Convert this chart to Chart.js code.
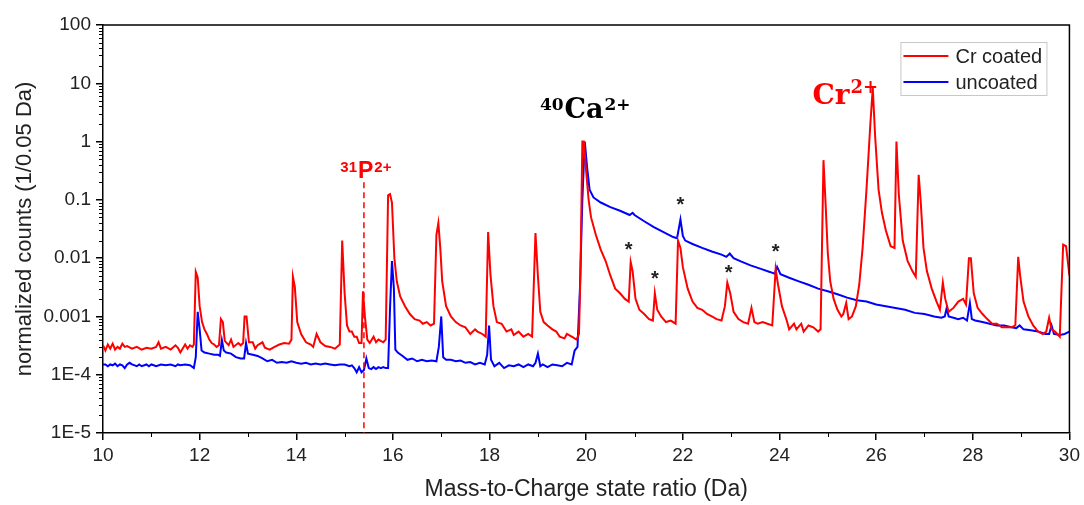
<!DOCTYPE html>
<html>
<head>
<meta charset="utf-8">
<title>Mass spectrum - Cr coated vs uncoated</title>
<script src="https://cdn.jsdelivr.net/npm/chart.js@4.4.1/dist/chart.umd.min.js"></script>
<style>
  html, body { margin: 0; padding: 0; background: #fff; }
  #wrap { width: 1084px; height: 505px; position: relative; }
</style>
</head>
<body>
<div id="wrap"><canvas id="spectrumChart"></canvas></div>
<script>
// ---- DATA ----
const massCr = [
  10.0, 10.05, 10.1, 10.15, 10.2, 10.25, 10.3, 10.35, 10.4, 10.45, 10.5, 10.6, 10.7, 10.8, 10.9, 11.0,
  11.1, 11.15, 11.2, 11.3, 11.4, 11.5, 11.55, 11.6, 11.7, 11.75, 11.8, 11.85, 11.88, 11.92, 11.96, 12.0,
  12.05, 12.1, 12.15, 12.2, 12.25, 12.3, 12.35, 12.4, 12.44, 12.48, 12.52, 12.6, 12.65, 12.7, 12.8, 12.85,
  12.9, 12.93, 12.97, 13.02, 13.1, 13.15, 13.2, 13.3, 13.35, 13.45, 13.55, 13.65, 13.75, 13.85, 13.9, 13.93,
  13.97, 14.02, 14.1, 14.2, 14.3, 14.35, 14.42, 14.5, 14.6, 14.7, 14.8, 14.9, 14.95, 15.0, 15.05, 15.1,
  15.15, 15.2, 15.25, 15.3, 15.35, 15.38, 15.42, 15.47, 15.52, 15.6, 15.65, 15.7, 15.8, 15.85, 15.9, 15.94,
  15.98, 16.03, 16.08, 16.15, 16.25, 16.35, 16.45, 16.55, 16.62, 16.7, 16.78, 16.85, 16.9, 16.94, 16.98, 17.02,
  17.1, 17.2, 17.3, 17.4, 17.5, 17.6, 17.7, 17.75, 17.85, 17.92, 17.97, 18.02, 18.08, 18.15, 18.25, 18.35,
  18.45, 18.5, 18.6, 18.7, 18.8, 18.88, 18.95, 19.0, 19.05, 19.12, 19.2, 19.3, 19.38, 19.45, 19.55, 19.6,
  19.7, 19.8, 19.85, 19.88, 19.92, 19.95, 20.0, 20.05, 20.1, 20.2, 20.3, 20.4, 20.5, 20.6, 20.7, 20.8,
  20.88, 20.92, 20.96, 21.02, 21.1, 21.2, 21.3, 21.38, 21.42, 21.47, 21.55, 21.65, 21.75, 21.85, 21.9, 21.95,
  22.0, 22.1, 22.2, 22.3, 22.4, 22.5, 22.6, 22.7, 22.8, 22.87, 22.92, 22.98, 23.05, 23.15, 23.25, 23.35,
  23.42, 23.48, 23.55, 23.65, 23.75, 23.85, 23.92, 23.97, 24.05, 24.15, 24.2, 24.3, 24.35, 24.45, 24.5, 24.6,
  24.7, 24.8, 24.85, 24.91, 24.95, 25.0, 25.05, 25.12, 25.2, 25.28, 25.32, 25.38, 25.43, 25.5, 25.58, 25.65,
  25.72, 25.8, 25.88, 25.93, 25.98, 26.05, 26.12, 26.2, 26.3, 26.38, 26.42, 26.47, 26.55, 26.65, 26.75, 26.82,
  26.88, 26.92, 26.98, 27.05, 27.15, 27.25, 27.32, 27.38, 27.43, 27.5, 27.6, 27.7, 27.8, 27.86, 27.92, 27.96,
  28.02, 28.1, 28.2, 28.3, 28.4, 28.5, 28.6, 28.7, 28.8, 28.88, 28.94, 28.98, 29.05, 29.15, 29.25, 29.35,
  29.45, 29.52, 29.58, 29.63, 29.7, 29.75, 29.8, 29.87, 29.93, 30.0
];
const countsCr = [
  3.2e-4, 2.6e-4, 3.3e-4, 2.8e-4, 3.4e-4, 2.7e-4, 3.0e-4, 2.8e-4, 3.4e-4, 3.0e-4, 3.1e-4, 2.8e-4, 3.0e-4, 2.7e-4, 2.9e-4, 2.8e-4,
  3.0e-4, 3.6e-4, 2.8e-4, 3.0e-4, 2.7e-4, 3.2e-4, 2.9e-4, 2.4e-4, 3.3e-4, 2.8e-4, 3.2e-4, 3.0e-4, 3.3e-4, 5.8e-3, 4.6e-3, 1.5e-3,
  8.0e-4, 6.0e-4, 5.0e-4, 4.0e-4, 3.5e-4, 3.3e-4, 3.0e-4, 3.2e-4, 9.0e-4, 8.0e-4, 3.8e-4, 3.2e-4, 4.0e-4, 3.0e-4, 3.5e-4, 3.2e-4,
  3.5e-4, 1.0e-3, 1.0e-3, 3.6e-4, 3.6e-4, 2.8e-4, 3.2e-4, 3.6e-4, 2.9e-4, 2.7e-4, 3.0e-4, 3.3e-4, 3.5e-4, 3.4e-4, 4.0e-4, 4.8e-3,
  3.2e-3, 8.0e-4, 5.0e-4, 3.6e-4, 3.3e-4, 3.0e-4, 5.0e-4, 3.6e-4, 3.1e-4, 3.0e-4, 2.8e-4, 3.3e-4, 2.0e-2, 2.5e-3, 7.0e-4, 5.5e-4,
  5.5e-4, 4.5e-4, 4.5e-4, 3.5e-4, 3.5e-4, 2.7e-3, 1.0e-3, 4.0e-4, 3.5e-4, 4.5e-4, 3.6e-4, 4.0e-4, 3.6e-4, 4.0e-4, 1.2e-1, 1.26e-1,
  9.0e-2, 1.0e-2, 4.0e-3, 2.2e-3, 1.5e-3, 1.1e-3, 9.0e-4, 8.5e-4, 7.5e-4, 8.0e-4, 7.0e-4, 7.5e-4, 2.5e-2, 4.0e-2, 1.5e-2, 4.0e-3,
  1.5e-3, 1.0e-3, 8.0e-4, 7.0e-4, 6.5e-4, 5.0e-4, 6.0e-4, 5.5e-4, 5.0e-4, 4.5e-4, 2.8e-2, 5.0e-3, 1.5e-3, 8.0e-4, 7.5e-4, 5.5e-4,
  6.0e-4, 4.8e-4, 5.5e-4, 4.5e-4, 5.0e-4, 4.5e-4, 2.7e-2, 5.0e-3, 1.2e-3, 8.0e-4, 7.0e-4, 6.0e-4, 5.5e-4, 4.5e-4, 4.2e-4, 5.0e-4,
  4.5e-4, 4.0e-4, 5.0e-4, 5.0e-3, 1.0, 1.0, 3.0e-1, 1.0e-1, 5.0e-2, 2.5e-2, 1.4e-2, 9.0e-3, 5.0e-3, 3.0e-3, 2.5e-3, 2.0e-3,
  1.8e-3, 8.6e-3, 6.0e-3, 2.0e-3, 1.3e-3, 1.1e-3, 9.0e-4, 8.5e-4, 2.5e-3, 1.3e-3, 1.0e-3, 8.0e-4, 8.5e-4, 7.5e-4, 2.0e-2, 1.5e-2,
  7.0e-3, 3.0e-3, 1.8e-3, 1.4e-3, 1.3e-3, 1.1e-3, 1.0e-3, 9.0e-4, 8.5e-4, 1.5e-3, 3.8e-3, 2.5e-3, 1.2e-3, 9.0e-4, 8.0e-4, 7.5e-4,
  1.4e-3, 8.0e-4, 7.5e-4, 8.0e-4, 7.5e-4, 7.0e-4, 6.5e-3, 3.5e-3, 1.5e-3, 8.5e-4, 6.0e-4, 7.5e-4, 6.0e-4, 7.5e-4, 5.5e-4, 7.0e-4,
  6.5e-4, 5.5e-4, 6.0e-4, 4.8e-1, 1.0e-1, 1.2e-2, 4.0e-3, 2.0e-3, 1.3e-3, 1.0e-3, 1.1e-3, 1.7e-3, 9.0e-4, 1.0e-3, 1.5e-3, 3.5e-3,
  1.5e-2, 1.5e-1, 2.0, 8.3, 1.2, 1.5e-1, 6.0e-2, 3.0e-2, 1.6e-2, 1.5e-2, 1.0, 1.2e-1, 2.0e-2, 9.0e-3, 6.0e-3, 4.8e-3,
  2.7e-1, 1.0e-1, 1.5e-2, 6.0e-3, 3.0e-3, 1.8e-3, 1.3e-3, 3.8e-3, 2.0e-3, 1.2e-3, 1.4e-3, 1.8e-3, 2.0e-3, 1.6e-3, 1.0e-2, 1.0e-2,
  2.5e-3, 1.4e-3, 1.1e-3, 9.0e-4, 7.5e-4, 7.5e-4, 6.5e-4, 6.5e-4, 6.5e-4, 7.0e-4, 1.05e-2, 5.0e-3, 1.8e-3, 1.0e-3, 7.0e-4, 5.5e-4,
  5.0e-4, 5.5e-4, 9.5e-4, 6.0e-4, 5.5e-4, 5.0e-4, 4.5e-4, 1.7e-2, 1.6e-2, 5.0e-3
];

const massUn = [
  10.0, 10.05, 10.1, 10.15, 10.2, 10.25, 10.3, 10.35, 10.4, 10.45, 10.5, 10.55, 10.6, 10.7, 10.75, 10.8,
  10.9, 10.95, 11.0, 11.05, 11.1, 11.2, 11.3, 11.4, 11.5, 11.55, 11.6, 11.7, 11.8, 11.88, 11.92, 11.96,
  12.0, 12.04, 12.1, 12.2, 12.3, 12.38, 12.42, 12.46, 12.5, 12.55, 12.65, 12.75, 12.85, 12.92, 12.96, 13.0,
  13.1, 13.2, 13.3, 13.4, 13.5, 13.6, 13.7, 13.8, 13.9, 14.0, 14.1, 14.2, 14.3, 14.4, 14.5, 14.6,
  14.7, 14.8, 14.9, 15.0, 15.1, 15.15, 15.2, 15.25, 15.3, 15.35, 15.4, 15.45, 15.5, 15.55, 15.6, 15.65,
  15.7, 15.75, 15.8, 15.85, 15.9, 15.94, 15.98, 16.02, 16.05, 16.1, 16.2, 16.3, 16.4, 16.5, 16.6, 16.7,
  16.8, 16.9, 16.95, 17.0, 17.04, 17.1, 17.2, 17.3, 17.4, 17.5, 17.6, 17.7, 17.8, 17.9, 17.95, 17.99,
  18.03, 18.1, 18.2, 18.3, 18.4, 18.5, 18.6, 18.7, 18.8, 18.9, 18.95, 19.0, 19.05, 19.1, 19.2, 19.3,
  19.4, 19.5, 19.6, 19.7, 19.76, 19.82, 19.87, 19.92, 19.97, 20.02, 20.07, 20.15, 20.3, 20.5, 20.7, 20.9,
  20.96, 21.0, 21.2, 21.4, 21.6, 21.8, 21.88, 21.95, 22.0, 22.05, 22.2, 22.4, 22.6, 22.8, 22.9, 22.97,
  23.05, 23.2, 23.4, 23.6, 23.8, 23.9, 23.95, 24.02, 24.2, 24.4, 24.6, 24.8, 25.0, 25.2, 25.4, 25.6,
  25.8, 26.0, 26.2, 26.4, 26.6, 26.8, 27.0, 27.2, 27.35, 27.42, 27.46, 27.5, 27.6, 27.7, 27.8, 27.88,
  27.94, 27.98, 28.05, 28.2, 28.35, 28.5, 28.65, 28.8, 28.9, 28.97, 29.05, 29.2, 29.35, 29.5, 29.58, 29.63,
  29.68, 29.8, 29.9, 30.0
];
const countsUn = [
  1.5e-4, 1.5e-4, 1.4e-4, 1.5e-4, 1.45e-4, 1.55e-4, 1.4e-4, 1.5e-4, 1.45e-4, 1.3e-4, 1.5e-4, 1.6e-4, 1.5e-4, 1.4e-4, 1.5e-4, 1.4e-4,
  1.5e-4, 1.4e-4, 1.5e-4, 1.45e-4, 1.4e-4, 1.5e-4, 1.45e-4, 1.5e-4, 1.4e-4, 1.5e-4, 1.45e-4, 1.5e-4, 1.45e-4, 1.3e-4, 2.0e-4, 1.2e-3,
  6.0e-4, 2.6e-4, 2.4e-4, 2.3e-4, 2.2e-4, 2.2e-4, 2.1e-4, 3.9e-4, 2.6e-4, 2.4e-4, 2.3e-4, 2.0e-4, 1.9e-4, 1.9e-4, 3.5e-4, 2.3e-4,
  2.2e-4, 2.1e-4, 1.9e-4, 1.7e-4, 1.8e-4, 1.6e-4, 1.65e-4, 1.6e-4, 1.7e-4, 1.6e-4, 1.55e-4, 1.6e-4, 1.5e-4, 1.55e-4, 1.5e-4, 1.55e-4,
  1.5e-4, 1.45e-4, 1.5e-4, 1.5e-4, 1.4e-4, 1.45e-4, 1.3e-4, 1.1e-4, 1.35e-4, 1.1e-4, 1.2e-4, 1.9e-4, 1.3e-4, 1.25e-4, 1.35e-4, 1.25e-4,
  1.35e-4, 1.3e-4, 1.35e-4, 1.3e-4, 1.3e-4, 1.4e-3, 8.9e-3, 3.0e-3, 2.7e-4, 2.4e-4, 2.1e-4, 1.8e-4, 1.9e-4, 1.7e-4, 1.8e-4, 1.7e-4,
  1.75e-4, 1.7e-4, 3.0e-4, 1.0e-3, 2.0e-4, 1.8e-4, 1.8e-4, 1.7e-4, 1.75e-4, 1.6e-4, 1.65e-4, 1.5e-4, 1.6e-4, 1.5e-4, 2.2e-4, 7.0e-4,
  1.8e-4, 1.4e-4, 1.6e-4, 1.3e-4, 1.45e-4, 1.4e-4, 1.5e-4, 1.35e-4, 1.5e-4, 1.4e-4, 1.6e-4, 2.3e-4, 1.4e-4, 1.5e-4, 1.35e-4, 1.5e-4,
  1.45e-4, 1.4e-4, 1.6e-4, 1.5e-4, 2.6e-4, 3.0e-4, 3.0e-3, 1.0e-1, 1.0, 3.5e-1, 1.5e-1, 1.1e-1, 9.0e-2, 7.5e-2, 6.5e-2, 5.5e-2,
  6.0e-2, 5.5e-2, 4.3e-2, 3.4e-2, 2.8e-2, 2.3e-2, 2.2e-2, 4.6e-2, 2.4e-2, 2.0e-2, 1.75e-2, 1.5e-2, 1.3e-2, 1.15e-2, 1.05e-2, 1.2e-2,
  1.0e-2, 8.8e-3, 7.5e-3, 6.6e-3, 5.8e-3, 5.4e-3, 7.1e-3, 5.3e-3, 4.6e-3, 4.0e-3, 3.5e-3, 3.0e-3, 2.7e-3, 2.4e-3, 2.1e-3, 1.9e-3,
  1.8e-3, 1.6e-3, 1.5e-3, 1.4e-3, 1.3e-3, 1.15e-3, 1.1e-3, 1.0e-3, 9.5e-4, 1.0e-3, 1.4e-3, 1.0e-3, 9.5e-4, 9.0e-4, 9.5e-4, 8.5e-4,
  1.7e-3, 9.0e-4, 8.5e-4, 8.0e-4, 7.5e-4, 7.0e-4, 7.0e-4, 6.5e-4, 6.3e-4, 7.0e-4, 6.0e-4, 5.8e-4, 5.5e-4, 5.0e-4, 5.0e-4, 7.0e-4,
  5.0e-4, 4.8e-4, 5.0e-4, 5.5e-4
];

// axis ticks
const xTickValues = [10, 12, 14, 16, 18, 20, 22, 24, 26, 28, 30];
const yTickValues = [1e-5, 1e-4, 1e-3, 1e-2, 1e-1, 1, 10, 100];
const yTickLabels = ['1E-5', '1E-4', '0.001', '0.01', '0.1', '1', '10', '100'];

// peak markers (*) : [mass, counts]
const starMass = [20.88, 21.42, 21.95, 22.95, 23.92];
const starCounts = [0.017, 0.0054, 0.1, 0.0068, 0.0155];

// ---- HELPERS ----
function toPoints(xs, ys) {
    return xs.map(function (x, i) { return { x: x, y: ys[i] }; });
}

// draws "sup1 MAIN sup2" centred on a pixel x, baseline at pixel y
function drawIonLabel(ctx, cx, by, pre, main, post, mainFont, supFont, rise, color) {
    ctx.save();
    ctx.fillStyle = color;
    ctx.textBaseline = 'alphabetic';
    ctx.textAlign = 'left';
    ctx.font = supFont;
    const wPre = ctx.measureText(pre).width;
    const wPost = ctx.measureText(post).width;
    ctx.font = mainFont;
    const wMain = ctx.measureText(main).width;
    let x = cx - (wPre + wMain + wPost + 2) / 2;
    ctx.font = supFont;
    ctx.fillText(pre, x, by - rise);
    x += wPre + 1;
    ctx.font = mainFont;
    ctx.fillText(main, x, by);
    x += wMain + 1;
    ctx.font = supFont;
    ctx.fillText(post, x, by - rise);
    ctx.restore();
}

// ---- PLUGIN: frame, minor ticks, legend, annotations ----
const decorPlugin = {
    id: 'decor',
    afterDraw(chart) {
        const ctx = chart.ctx;
        const a = chart.chartArea;
        const xs = chart.scales.x;
        const ys = chart.scales.y;

        ctx.save();
        // top + right frame
        ctx.strokeStyle = '#000';
        ctx.lineWidth = 1.5;
        ctx.beginPath();
        ctx.moveTo(a.left, a.top);
        ctx.lineTo(a.right, a.top);
        ctx.lineTo(a.right, a.bottom);
        ctx.stroke();

        // minor ticks on log axis
        ctx.lineWidth = 1;
        ctx.beginPath();
        for (let k = -5; k < 2; k++) {
            for (let m = 2; m <= 9; m++) {
                const py = Math.round(ys.getPixelForValue(m * Math.pow(10, k))) + 0.5;
                ctx.moveTo(a.left, py);
                ctx.lineTo(a.left - 4, py);
            }
        }
        // minor ticks on x axis
        for (let v = 11; v < 30; v += 2) {
            const px = Math.round(xs.getPixelForValue(v)) + 0.5;
            ctx.moveTo(px, a.bottom);
            ctx.lineTo(px, a.bottom + 4);
        }
        ctx.stroke();

        // dashed marker at 31P2+
        const pX = xs.getPixelForValue(15.4);
        ctx.strokeStyle = '#ff0000';
        ctx.lineWidth = 1.5;
        ctx.setLineDash([6, 4]);
        ctx.beginPath();
        ctx.moveTo(pX, ys.getPixelForValue(0.2));
        ctx.lineTo(pX, a.bottom);
        ctx.stroke();
        ctx.setLineDash([]);

        // ion labels
        drawIonLabel(ctx, xs.getPixelForValue(15.44), ys.getPixelForValue(0.24),
            '31', 'P', '2+', 'bold 23px "Liberation Sans"', 'bold 15px "Liberation Sans"', 6, '#ff0000');
        drawIonLabel(ctx, xs.getPixelForValue(19.98), ys.getPixelForValue(2.5),
            '40', 'Ca', '2+', 'bold 27px "DejaVu Serif"', 'bold 17px "DejaVu Serif"', 8, '#000');
        drawIonLabel(ctx, xs.getPixelForValue(25.35), ys.getPixelForValue(4.4),
            '', 'Cr', '2+', 'bold 28px "DejaVu Serif"', 'bold 18px "DejaVu Serif"', 11, '#ff0000');

        // asterisks
        ctx.fillStyle = '#222';
        ctx.font = 'bold 20px "Liberation Sans"';
        ctx.textAlign = 'center';
        ctx.textBaseline = 'alphabetic';
        for (let i = 0; i < starMass.length; i++) {
            ctx.fillText('*', xs.getPixelForValue(starMass[i]), ys.getPixelForValue(starCounts[i]) + 11);
        }

        // legend box (top right, inside plot)
        const lx = a.right - 169, ly = a.top + 17, lw = 146, lh = 53;
        ctx.fillStyle = '#fff';
        ctx.fillRect(lx, ly, lw, lh);
        ctx.strokeStyle = '#c8c8c8';
        ctx.lineWidth = 1;
        ctx.strokeRect(lx + 0.5, ly + 0.5, lw, lh);
        ctx.font = '20px "Liberation Sans"';
        ctx.textAlign = 'left';
        ctx.textBaseline = 'middle';
        chart.data.datasets.forEach(function (ds, i) {
            const yy = ly + 14 + i * 26;
            ctx.strokeStyle = ds.borderColor;
            ctx.lineWidth = 2;
            ctx.beginPath();
            ctx.moveTo(lx + 3, yy);
            ctx.lineTo(lx + 48, yy);
            ctx.stroke();
            ctx.fillStyle = '#222';
            ctx.fillText(ds.label, lx + 55, yy + 1);
        });
        ctx.restore();
    }
};

function loadChart() {
    const ctx = document.getElementById('spectrumChart');
    if (!ctx) return;

    new Chart(ctx, {
        type: 'line',
        data: {
            datasets: [{
                label: 'Cr coated',
                data: toPoints(massCr, countsCr),
                borderColor: '#ff0000',
                borderWidth: 2,
                pointRadius: 0,
                tension: 0
            }, {
                label: 'uncoated',
                data: toPoints(massUn, countsUn),
                borderColor: '#0000ff',
                borderWidth: 2,
                pointRadius: 0,
                tension: 0
            }]
        },
        options: {
            responsive: true,
            maintainAspectRatio: false,
            animation: false,
            layout: { padding: { top: 25, right: 13, left: 0, bottom: 0 } },
            plugins: {
                legend: { display: false },
                tooltip: { enabled: false }
            },
            scales: {
                x: {
                    type: 'linear',
                    min: 10,
                    max: 30,
                    afterBuildTicks: function (axis) {
                        axis.ticks = xTickValues.map(function (v) { return { value: v }; });
                    },
                    afterFit: function (axis) { axis.height = 72; },
                    grid: { drawOnChartArea: false, drawTicks: true, tickLength: 7, color: '#000', lineWidth: 1.5 },
                    border: { color: '#000', width: 1.5 },
                    ticks: {
                        color: '#222',
                        padding: 4,
                        maxRotation: 0,
                        font: { family: 'Liberation Sans', size: 19 }
                    },
                    title: {
                        display: true,
                        text: 'Mass-to-Charge state ratio (Da)',
                        color: '#222',
                        font: { family: 'Liberation Sans', size: 23 },
                        padding: { top: 0, bottom: 2 }
                    }
                },
                y: {
                    type: 'logarithmic',
                    min: 1e-5,
                    max: 100,
                    afterBuildTicks: function (axis) {
                        axis.ticks = yTickValues.map(function (v) { return { value: v }; });
                    },
                    afterFit: function (axis) { axis.width = 103; },
                    grid: { drawOnChartArea: false, drawTicks: true, tickLength: 7, color: '#000', lineWidth: 1.5 },
                    border: { color: '#000', width: 1.5 },
                    ticks: {
                        color: '#222',
                        padding: 5,
                        font: { family: 'Liberation Sans', size: 19 },
                        callback: function (value, index) { return yTickLabels[index]; }
                    },
                    title: {
                        display: true,
                        text: 'normalized counts (1/0.05 Da)',
                        color: '#222',
                        font: { family: 'Liberation Sans', size: 22 },
                        padding: { top: 12, bottom: 0 }
                    }
                }
            }
        },
        plugins: [decorPlugin]
    });
}

document.addEventListener("DOMContentLoaded", function () {
    loadChart();
});
</script>
</body>
</html>
